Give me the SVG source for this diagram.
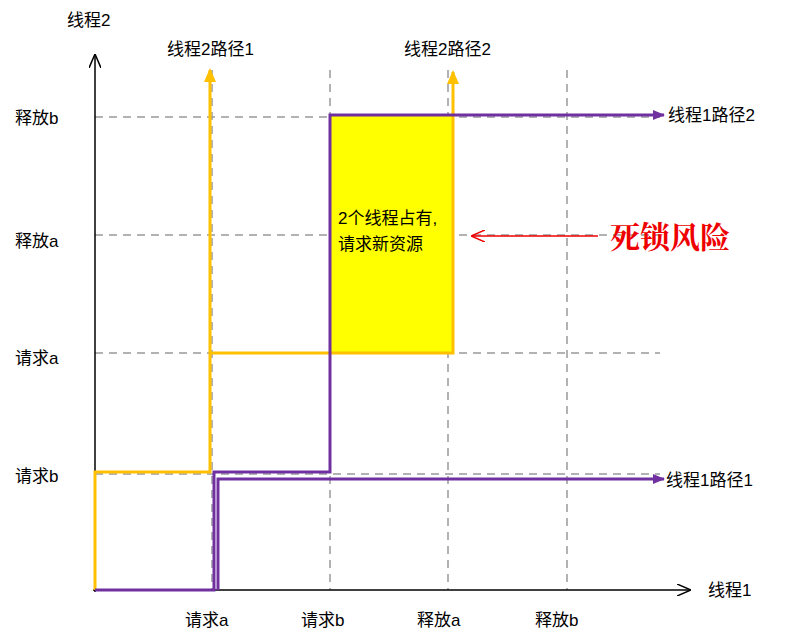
<svg xmlns="http://www.w3.org/2000/svg" width="792" height="640" viewBox="0 0 792 640">
<style>
text{font-family:"Liberation Sans","Noto Sans CJK SC",sans-serif;font-size:17px;fill:#000}
.g{stroke:#999;stroke-width:1.5;stroke-dasharray:8,6;fill:none}
.o{stroke:#FFC000;stroke-width:3;fill:none}
.p{stroke:#7030A0;stroke-width:3;fill:none}
</style>
<defs>
<marker id="ao" markerWidth="14" markerHeight="12" refX="12" refY="6" orient="auto" markerUnits="userSpaceOnUse" viewBox="0 0 14 12"><path d="M0,0 L14,6 L0,12 Z" fill="#FFC000"/></marker>
<marker id="ap" markerWidth="12" markerHeight="10" refX="11" refY="5" orient="auto" markerUnits="userSpaceOnUse" viewBox="0 0 12 10"><path d="M0,0 L12,5 L0,10 Z" fill="#7030A0"/></marker>
<marker id="ak" markerWidth="14" markerHeight="12" refX="13" refY="6" orient="auto" markerUnits="userSpaceOnUse" viewBox="0 0 14 12"><path d="M0,0 L14,6 L0,12" fill="none" stroke="#000" stroke-width="1.5"/></marker>
<marker id="ar" markerWidth="14" markerHeight="12" refX="13" refY="6" orient="auto" markerUnits="userSpaceOnUse" viewBox="0 0 14 12"><path d="M0,0 L14,6 L0,12" fill="none" stroke="#E00" stroke-width="1.5"/></marker>
</defs>
<g id="grid">
<path class="g" d="M212,70V590M330,70V590M448,70V590M567,70V590M95,117H660M95,235H660M95,353H660M95,474H660"/>
</g>
<rect id="risk-area" x="331" y="115" width="122" height="238" fill="#FFFF00"/>
<g id="axes">
<path d="M95,592V55" stroke="#000" stroke-width="1.5" fill="none" marker-end="url(#ak)"/>
<path d="M93,590H690" stroke="#000" stroke-width="1.5" fill="none" marker-end="url(#ak)"/>
</g>
<g id="connectors">
<path class="o" d="M95,590V472H210V70" marker-end="url(#ao)"/>
<path class="o" d="M210,353H453V72" marker-end="url(#ao)"/>
<path class="p" d="M95,590H214V472H330V115H664" marker-end="url(#ap)"/>
<path class="p" d="M218,590V479H664" marker-end="url(#ap)"/>
<path d="M598,236H472" stroke="#E00" stroke-width="1.5" fill="none" marker-end="url(#ar)"/>
</g>
<g id="labels">
<text x="67" y="26">线程2</text>
<text x="708" y="596">线程1</text>
<text x="167" y="55">线程2路径1</text>
<text x="404" y="55">线程2路径2</text>
<text x="668" y="121">线程1路径2</text>
<text x="666" y="486">线程1路径1</text>
<text x="15" y="124">释放b</text>
<text x="15" y="247">释放a</text>
<text x="15" y="364">请求a</text>
<text x="15" y="482">请求b</text>
<text x="185" y="626">请求a</text>
<text x="301" y="626">请求b</text>
<text x="417" y="626">释放a</text>
<text x="535" y="626">释放b</text>
<text x="338" y="224">2个线程占有,</text>
<text x="338" y="250">请求新资源</text>
<text x="610" y="248" style="font-family:'Noto Serif CJK SC','Noto Sans CJK SC',serif;font-size:30px;fill:#E00;font-weight:bold">死锁风险</text>
</g>
</svg>
